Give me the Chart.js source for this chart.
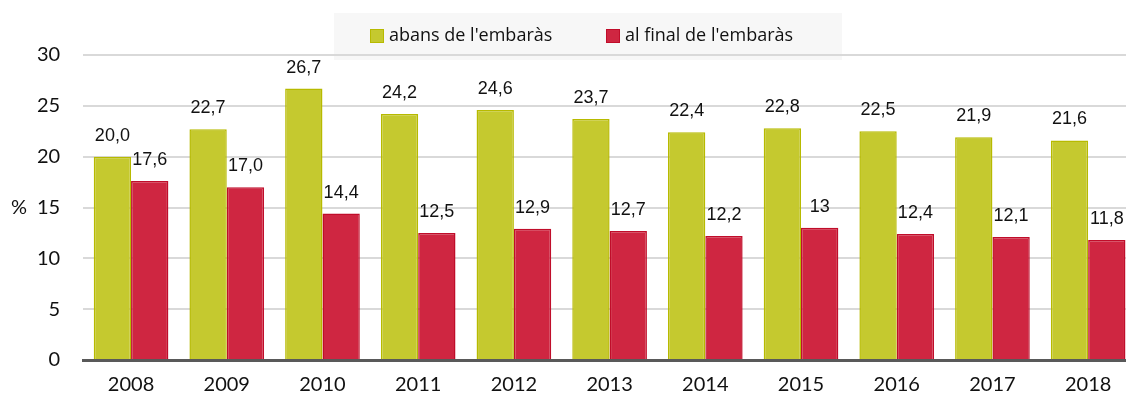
<!DOCTYPE html>
<html>
<head>
<meta charset="utf-8">
<script src="https://cdn.jsdelivr.net/npm/chart.js@4"></script>
<style>
  html, body { margin: 0; padding: 0; background: #fff; overflow: hidden; }
  #wrap { width: 1136px; height: 401px; }
</style>
</head>
<body>
<div id="wrap"><canvas id="chart"></canvas></div>
<script>
// --- data ---
var years = ['2008', '2009', '2010', '2011', '2012', '2013', '2014', '2015', '2016', '2017', '2018'];
var before = [20.0, 22.7, 26.7, 24.2, 24.6, 23.7, 22.4, 22.8, 22.5, 21.9, 21.6];
var atEnd = [17.6, 17.0, 14.4, 12.5, 12.9, 12.7, 12.2, 13, 12.4, 12.1, 11.8];
var beforeLabels = ['20,0', '22,7', '26,7', '24,2', '24,6', '23,7', '22,4', '22,8', '22,5', '21,9', '21,6'];
var atEndLabels = ['17,6', '17,0', '14,4', '12,5', '12,9', '12,7', '12,2', '13', '12,4', '12,1', '11,8'];
var yTicks = [0, 5, 10, 15, 20, 25, 30];

var axisFont = { family: 'Lato, "Open Sans", sans-serif', size: 20 };

// labels above each bar
var barLabels = {
  id: 'barLabels',
  afterDatasetsDraw: function(chart) {
    var ctx = chart.ctx;
    ctx.save();
    ctx.font = '18px "Liberation Sans", Arial, sans-serif';
    ctx.fillStyle = '#111';
    ctx.textAlign = 'center';
    ctx.textBaseline = 'middle';
    chart.data.datasets.forEach(function(ds, i) {
      chart.getDatasetMeta(i).data.forEach(function(bar, j) {
        ctx.fillText(ds.valueLabels[j], bar.x, bar.y - 21);
      });
    });
    ctx.restore();
  }
};

// legend box behind the grid, items and % on top
var legendBox = {
  id: 'legendBox',
  beforeDraw: function(chart) {
    var ctx = chart.ctx;
    ctx.save();
    ctx.fillStyle = '#f7f7f7';
    ctx.fillRect(334, 13, 508, 47);
    ctx.restore();
  },
  afterDraw: function(chart) {
    var ctx = chart.ctx;
    var xs = [370, 606];
    ctx.save();
    ctx.font = '18px "Open Sans", Lato, sans-serif';
    ctx.textBaseline = 'middle';
    ctx.textAlign = 'left';
    chart.data.datasets.forEach(function(ds, i) {
      ctx.fillStyle = ds.backgroundColor;
      ctx.fillRect(xs[i], 29, 14, 14);
      ctx.strokeStyle = ds.borderColor;
      ctx.lineWidth = 1;
      ctx.strokeRect(xs[i] + 0.5, 29.5, 13, 13);
      ctx.fillStyle = '#111';
      ctx.fillText(ds.label, xs[i] + 19, 36);
    });
    // unit label next to the 15 tick
    var y15 = chart.scales.y.getPixelForValue(15);
    ctx.font = '20px Lato, "Open Sans", sans-serif';
    ctx.fillText('%', 11, y15);
    ctx.restore();
  }
};

new Chart(document.getElementById('chart'), {
  type: 'bar',
  data: {
    labels: years,
    datasets: [
      {
        label: "abans de l'embaràs",
        data: before,
        valueLabels: beforeLabels,
        backgroundColor: '#c5c92f',
        borderColor: '#b7ba00',
        borderWidth: 1.5
      },
      {
        label: "al final de l'embaràs",
        data: atEnd,
        valueLabels: atEndLabels,
        backgroundColor: '#cf2641',
        borderColor: '#c00d2a',
        borderWidth: 1.5
      }
    ]
  },
  options: {
    responsive: true,
    maintainAspectRatio: false,
    animation: false,
    layout: { padding: { left: 14, right: 0, top: 55, bottom: 0 } },
    datasets: { bar: { categoryPercentage: 0.78, barPercentage: 1 } },
    plugins: {
      legend: { display: false },
      tooltip: { enabled: false }
    },
    scales: {
      x: {
        afterFit: function(axis) { axis.height = 41; },
        grid: { display: false, drawTicks: false },
        border: { color: '#595959', width: 3 },
        ticks: { color: '#111', font: axisFont, padding: 13 }
      },
      y: {
        min: 0,
        max: 30,
        afterBuildTicks: function(axis) {
          axis.ticks = yTicks.map(function(v) { return { value: v }; });
        },
        grid: { color: '#d9d9d9', lineWidth: 2, drawTicks: false },
        border: { display: false },
        ticks: { color: '#111', font: axisFont, padding: 23 }
      }
    }
  },
  plugins: [barLabels, legendBox]
});
</script>
</body>
</html>
